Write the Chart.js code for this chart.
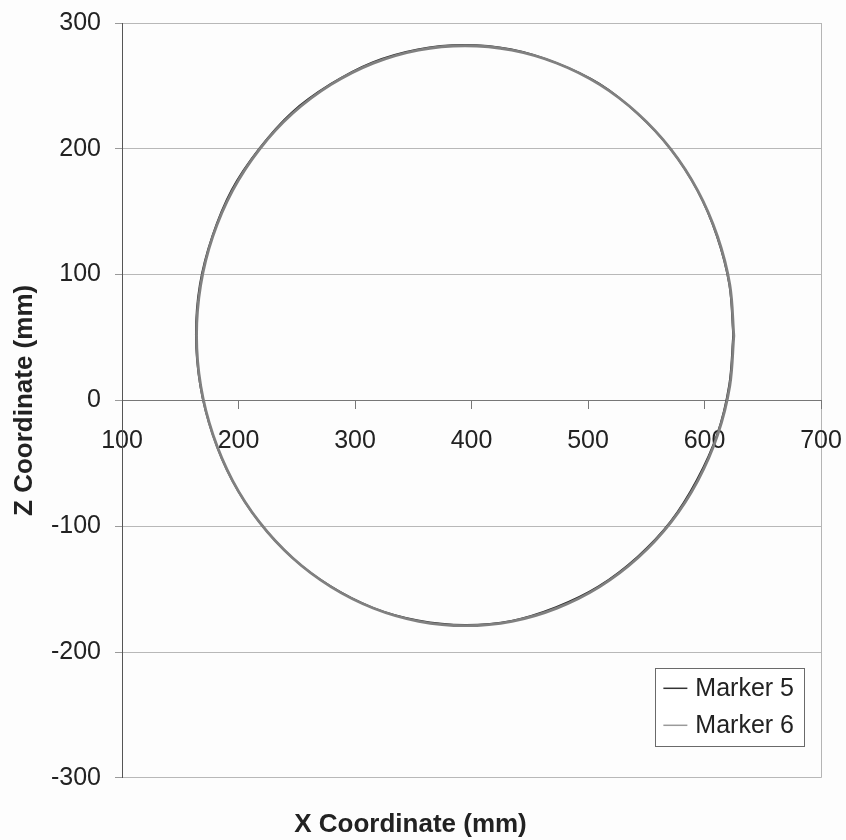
<!DOCTYPE html>
<html>
<head>
<meta charset="utf-8">
<script src="https://cdn.jsdelivr.net/npm/chart.js@4/dist/chart.umd.min.js"></script>
<style>
  body { margin: 0; background: #fdfdfd; }
  #wrap { width: 846px; height: 840px; }
</style>
</head>
<body>
<div id="wrap"><canvas id="circleChart" width="846" height="840"></canvas></div>
<script>
// values (mm)
const seriesNames = ['Marker 5', 'Marker 6'];
const xTicks = [100, 200, 300, 400, 500, 600, 700];
const zTicks = [-300, -200, -100, 0, 100, 200, 300];

const marker5X = [624.6, 621.2, 610.4, 593.8, 570.3, 542.0, 509.6, 472.5, 433.6, 393.5, 353.8, 315.0, 278.9, 245.6, 217.6, 194.2, 177.5, 166.8, 163.4, 167.1, 177.6, 194.5, 217.2, 245.9, 278.5, 315.4, 354.2, 394.3, 434.2, 472.6, 509.1, 542.4, 570.8, 593.5, 610.8, 621.1, 624.6];
const marker5Z = [52.0, 92.3, 131.0, 167.0, 200.5, 228.4, 251.9, 268.4, 279.2, 282.6, 279.1, 268.8, 251.4, 228.8, 200.0, 167.5, 130.6, 92.2, 52.2, 11.8, -26.6, -63.5, -96.0, -124.8, -147.4, -164.8, -174.8, -178.4, -175.2, -164.3, -147.8, -124.4, -96.4, -63.1, -27.0, 12.2, 52.0];

const marker6X = [625.2, 621.8, 611.2, 594.3, 571.2, 542.9, 510.1, 473.4, 434.6, 394.6, 354.5, 315.8, 279.3, 246.3, 218.0, 194.9, 177.9, 167.5, 164.0, 167.6, 178.1, 195.0, 218.0, 246.5, 279.4, 315.9, 354.7, 394.8, 434.8, 473.4, 509.9, 542.9, 571.3, 594.2, 611.3, 621.7, 625.2];
const marker6Z = [51.4, 91.6, 130.3, 166.6, 199.6, 227.9, 251.0, 268.0, 278.4, 281.9, 278.5, 268.1, 251.0, 228.0, 199.6, 166.8, 130.2, 91.5, 51.5, 11.4, -27.3, -63.9, -96.8, -125.3, -148.2, -165.2, -175.6, -179.1, -175.6, -165.1, -148.2, -125.1, -96.8, -63.9, -27.4, 11.4, 51.4];

const FONT = "'Liberation Sans', Arial, sans-serif";

function toPoints(xs, zs) {
    return xs.map((x, i) => ({ x: x, y: zs[i] }));
}

// boxed legend sitting inside the plot, bottom right (Marker 5 listed first)
const boxLegend = {
    id: 'boxLegend',
    afterDraw(chart) {
        const { ctx, chartArea } = chart;
        const sets = seriesNames.map(n => chart.data.datasets.find(d => d.label === n));
        ctx.save();
        ctx.font = '25px ' + FONT;
        const textW = Math.max(...sets.map(d => ctx.measureText(d.label).width));
        const rowH = 37;
        const w = 8 + 24 + 8 + textW + 10;
        const h = rowH * sets.length + 4;
        const right = chartArea.right - 17;
        const bottom = chartArea.bottom - 32;
        const left = right - w;
        const top = bottom - h;
        ctx.fillStyle = '#ffffff';
        ctx.fillRect(left, top, w, h);
        ctx.strokeStyle = '#6a6a6a';
        ctx.lineWidth = 1;
        ctx.strokeRect(Math.round(left) + 0.5, Math.round(top) + 0.5, Math.round(w), Math.round(h));
        sets.forEach((d, i) => {
            const cy = top + 2 + rowH * i + rowH / 2;
            ctx.strokeStyle = d.legendColor;
            ctx.lineWidth = 1.5;
            ctx.beginPath();
            ctx.moveTo(left + 8, cy);
            ctx.lineTo(left + 32, cy);
            ctx.stroke();
            ctx.fillStyle = '#222';
            ctx.textBaseline = 'middle';
            ctx.textAlign = 'left';
            ctx.fillText(d.label, left + 40, cy + 1);
        });
        ctx.restore();
    }
};

new Chart(document.getElementById('circleChart').getContext('2d'), {
    type: 'scatter',
    data: {
        datasets: [
            {
                label: seriesNames[1],
                data: toPoints(marker6X, marker6Z),
                showLine: true,
                borderColor: '#808080',
                legendColor: '#9a9a9a',
                borderWidth: 2.8,
                pointRadius: 0,
                tension: 0.35
            },
            {
                label: seriesNames[0],
                data: toPoints(marker5X, marker5Z),
                showLine: true,
                borderColor: '#303030',
                legendColor: '#333333',
                borderWidth: 1.8,
                pointRadius: 0,
                tension: 0.35
            }
        ]
    },
    options: {
        responsive: false,
        animation: false,
        layout: { padding: { left: 0, right: 25, top: 23, bottom: 0 } },
        scales: {
            x: {
                type: 'linear',
                position: { y: 0 },
                min: xTicks[0],
                max: xTicks[xTicks.length - 1],
                afterBuildTicks: s => { s.ticks = xTicks.map(v => ({ value: v })); },
                afterFit: s => { s.paddingLeft = 0; s.paddingRight = 0; },
                ticks: {
                    autoSkip: false,
                    maxRotation: 0,
                    padding: 18,
                    color: '#222',
                    font: { family: FONT, size: 25 }
                },
                grid: {
                    color: c => (c.tick && c.tick.value === 700 ? '#b5b5b5' : 'rgba(0,0,0,0)'),
                    tickColor: '#777',
                    tickLength: 8,
                    lineWidth: 1
                },
                border: { display: true, color: '#777', width: 1 }
            },
            y: {
                type: 'linear',
                position: 'left',
                min: zTicks[0],
                max: zTicks[zTicks.length - 1],
                afterBuildTicks: s => { s.ticks = zTicks.map(v => ({ value: v })); },
                afterFit: s => { s.width = 122; s.paddingTop = 0; s.paddingBottom = 0; },
                ticks: {
                    padding: 14,
                    color: '#222',
                    font: { family: FONT, size: 25 }
                },
                grid: {
                    color: '#b8b8b8',
                    tickColor: '#9a9a9a',
                    tickLength: 7,
                    lineWidth: 1
                },
                border: { display: true, color: '#555', width: 1 },
                title: {
                    display: true,
                    text: 'Z Coordinate (mm)',
                    color: '#222',
                    font: { family: FONT, size: 26, weight: 'bold' },
                    padding: { top: 9, bottom: 0 }
                }
            }
        },
        plugins: {
            legend: { display: false },
            tooltip: { enabled: false },
            title: {
                display: true,
                position: 'bottom',
                text: 'X Coordinate (mm)',
                color: '#222',
                font: { family: FONT, size: 26, weight: 'bold' },
                padding: { top: 31, bottom: 0 }
            }
        }
    },
    plugins: [boxLegend]
});
</script>
</body>
</html>
